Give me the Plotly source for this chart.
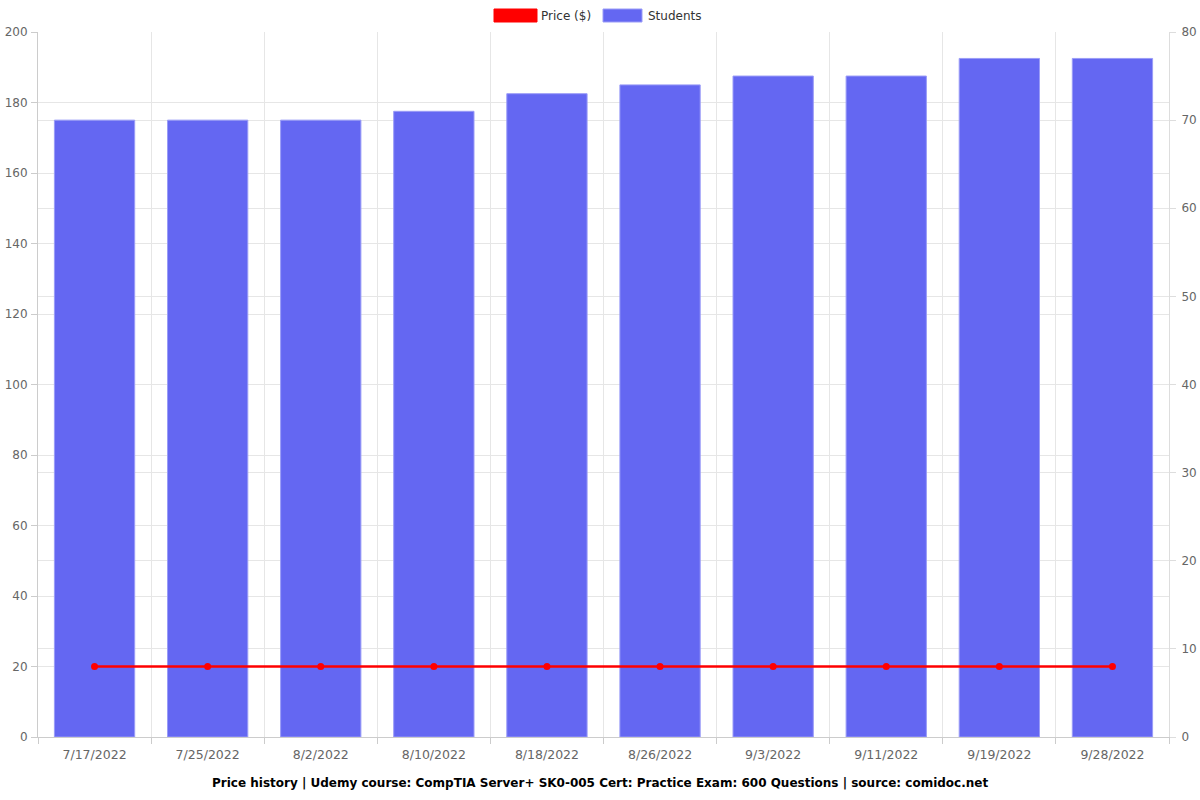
import plotly.graph_objects as go

dates = ["7/17/2022", "7/25/2022", "8/2/2022", "8/10/2022", "8/18/2022",
         "8/26/2022", "9/3/2022", "9/11/2022", "9/19/2022", "9/28/2022"]
students = [70, 70, 70, 71, 73, 74, 75, 75, 77, 77]
price = [20, 20, 20, 20, 20, 20, 20, 20, 20, 20]

title = "Price history | Udemy course: CompTIA Server+ SK0-005 Cert: Practice Exam: 600 Questions | source: comidoc.net"

L, R, T, B = 38, 31, 32, 63
W, H = 1200, 800
pw, ph = W - L - R, H - T - B

def px(x):
    return (x - L) / pw

def py(y):
    return (H - B - y) / ph

fig = go.Figure()
fig.add_trace(go.Bar(x=dates, y=students, name="Students", yaxis="y",
                     marker=dict(color="#6467f2", line=dict(color="#9a9cf7", width=1)),
                     width=0.71, showlegend=False))
fig.add_trace(go.Scatter(x=dates, y=price, name="Price ($)", yaxis="y2",
                         mode="lines+markers",
                         line=dict(color="#ff0000", width=2.5),
                         marker=dict(color="#ff0000", size=7),
                         showlegend=False))

grid = "#e6e6e6"
tickfont = dict(family="DejaVu Sans", size=12, color="#666666")
xtickfont = dict(family="DejaVu Sans", size=12.5, color="#666666")
fig.update_layout(
    width=W, height=H,
    margin=dict(l=L, r=R, t=T, b=B),
    paper_bgcolor="white", plot_bgcolor="white",
    font=dict(family="DejaVu Sans"),
    xaxis=dict(type="category", tickson="boundaries", showgrid=True, gridcolor=grid,
               range=[-0.5, len(dates) - 0.5],
               ticks="outside", ticklen=6, tickcolor="#cccccc", tickfont=xtickfont,
               ticklabelstandoff=6,
               showline=True, linecolor="#cccccc", zeroline=False, automargin=False),
    yaxis=dict(side="right", range=[0, 80], dtick=10, showgrid=True, gridcolor=grid,
               ticks="outside", ticklen=6, tickcolor="#dddddd", tickfont=tickfont,
               ticklabelstandoff=3,
               showline=True, linecolor="#dddddd", zeroline=False, automargin=False),
    yaxis2=dict(side="left", overlaying="y", range=[0, 200], dtick=20, showgrid=True,
                gridcolor=grid, ticks="outside", ticklen=6, tickcolor="#cccccc",
                tickfont=tickfont, ticklabelstandoff=1,
                showline=True, linecolor="#cccccc", zeroline=False, automargin=False),
    showlegend=False,
)

shapes = [
    dict(type="rect", xref="paper", yref="paper", x0=px(494), x1=px(537), y0=py(22), y1=py(9),
         fillcolor="#ff0000", line=dict(color="#ff0000", width=1)),
    dict(type="rect", xref="paper", yref="paper", x0=px(603), x1=px(642), y0=py(22), y1=py(9),
         fillcolor="#6467f2", line=dict(color="#9a9cf7", width=1)),
]
fig.update_layout(shapes=shapes)

fig.add_annotation(text="Price ($)", xref="paper", yref="paper", x=px(539), y=py(16),
                   xanchor="left", yanchor="middle", showarrow=False,
                   font=dict(family="DejaVu Sans", size=12, color="#333333"))
fig.add_annotation(text="Students", xref="paper", yref="paper", x=px(646), y=py(16),
                   xanchor="left", yanchor="middle", showarrow=False,
                   font=dict(family="DejaVu Sans", size=12, color="#333333"))
fig.add_annotation(text="<b>" + title + "</b>", xref="paper", yref="paper", x=px(600), y=py(783),
                   xanchor="center", yanchor="middle", showarrow=False,
                   font=dict(family="DejaVu Sans", size=12, color="#000000"))

fig.write_html("out.html")
